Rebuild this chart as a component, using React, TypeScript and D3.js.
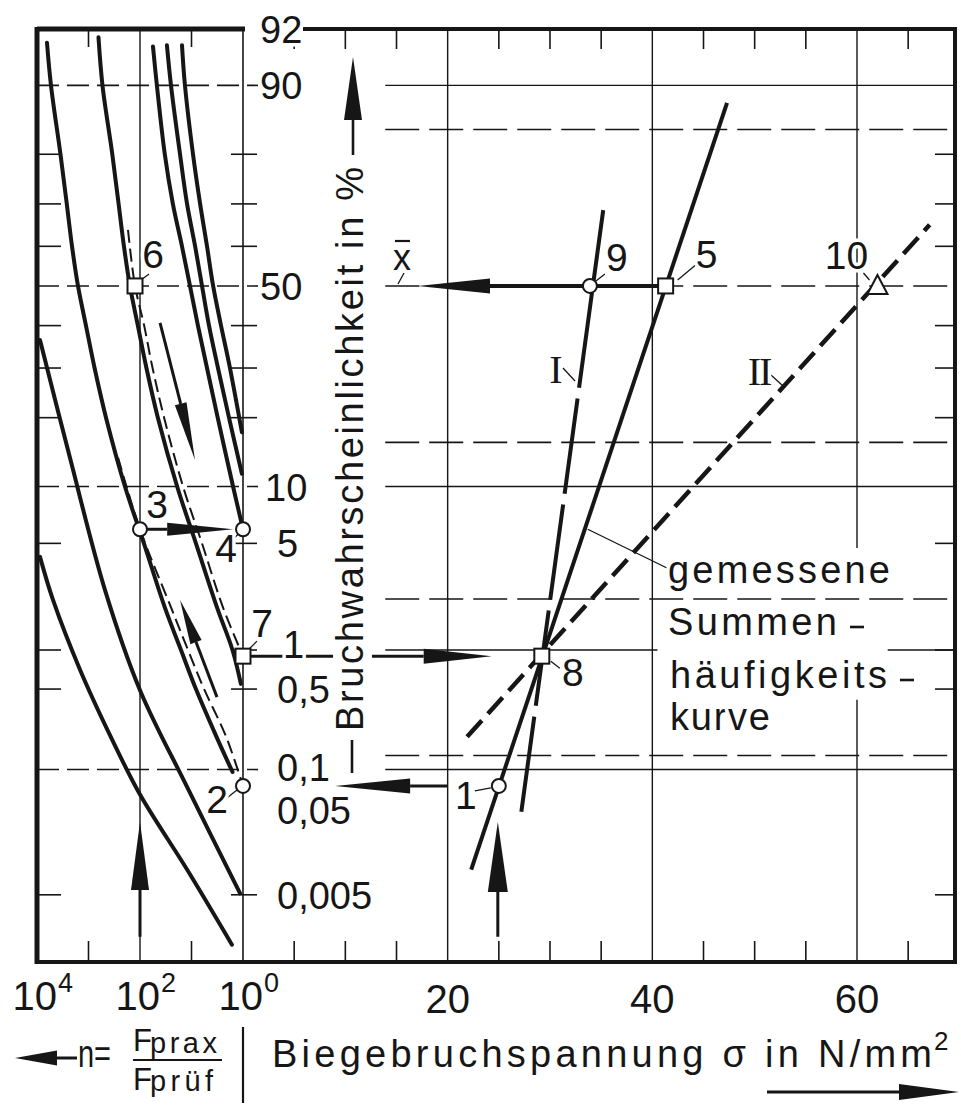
import * as d3 from "d3";

const W = 961;
const H = 1106;

// probability grid, in %
const probTicks = [80, 70, 60, 40, 30, 20, 5, 1, 0.5, 0.005];
const leftDashedP = [90, 50, 10, 0.1];
const rightSolidP = [90, 10, 0.1];
const rightDashedP = [84.13, 50, 15.87, 2.275, 0.135]; // +1s, 0, -1s, -2s, -3s
const onePctSpans = [[13.9, 40.5], [63, 69.6]]; // sigma spans of the 1 % line
const sigma60Gap = [4.7, 0.41]; // P range where the 60-line is cut by the text
const yLabels: [string, number][] = [
  ["90", 90], ["50", 50], ["10", 10], ["5", 5], ["1", 1],
  ["0,5", 0.5], ["0,1", 0.1], ["0,05", 0.05], ["0,005", 0.005],
];

// n axis (left) and sigma axis (right)
const nTicks = [1000, 10];
const nLabels: [number, string][] = [[1e4, "4"], [1e2, "2"], [1, "0"]];
const sigmaTicks = d3.range(5, 70, 5);
const sigmaGrid = [20, 40, 60];
const sigmaLabels = [20, 40, 60];

// conversion curves [n, P%]
const curveA = [[6400, 94], [5350, 90], [3500, 80], [2640, 70], [2090, 60], [1600, 50], [1120, 40], [762, 30], [457, 20], [196, 10], [84, 5], [33, 2], [16, 1], [8.2, 0.5], [3.3, 0.2], [1.6, 0.095]];
const curveB = [[640, 94.4], [535, 90], [345, 80], [260, 70], [205, 60], [157, 50], [110, 40], [75, 30], [45, 20], [19, 10], [8.2, 5], [3.2, 2], [1.6, 1], [1.1, 0.55]];
const curveC = [[56, 93.7], [47, 90], [33, 80], [23, 70], [15.3, 60], [10.7, 50], [7.5, 40], [5.0, 30], [3.1, 20], [1.56, 10], [1, 6]];
const curveD = [[30, 93.8], [25, 90], [16.7, 80], [12.2, 70], [8.5, 60], [6.25, 50], [4.57, 40], [3.06, 30], [1.87, 20], [1.05, 11.5]];
const curveE = [[15.3, 93.8], [13.4, 90], [9.35, 80], [6.8, 70], [5.0, 60], [3.8, 50], [2.67, 40], [1.79, 30], [1.05, 17.5]];
const curveF = [[8750, 36.5], [2290, 13.6], [478, 2.6], [100, 0.49], [12.2, 0.0685], [1.14, 0.0052]];
const curveG = [[8750, 4.17], [4890, 2.24], [1462, 0.71], [383, 0.205], [100, 0.0577], [12.2, 0.0096], [1.64, 0.00128]];
const curves = [curveA, curveB, curveC, curveD, curveE, curveF, curveG];

// construction lines (dashed) [n, P%]
const dashed67 = [[171, 64], [125, 50], [83, 40], [57, 30], [34, 20], [14.6, 10], [6.25, 5], [2.45, 2], [1, 0.9]];
const dashed23 = [[266, 13.6], [100, 6], [25, 2], [11.7, 1], [5.7, 0.5], [2.14, 0.2], [1, 0.07]];

// sum curves [sigma, P%]
const measured = [[22.3, 0.0096], [47.3, 87.9]];
const lineI = [[27.2, 0.039], [35.2, 68.6]];
const lineII = [[21.9, 0.198], [67.1, 65.2]];

const leftPoints = [
  { id: "6", n: 125, p: 50, shape: "square" },
  { id: "3", n: 100, p: 6, shape: "circle" },
  { id: "4", n: 1, p: 6, shape: "circle" },
  { id: "7", n: 1, p: 0.9, shape: "square" },
  { id: "2", n: 1, p: 0.07, shape: "circle" },
];
const rightPoints = [
  { id: "9", s: 33.9, p: 50, shape: "circle" },
  { id: "5", s: 41.3, p: 50, shape: "square" },
  { id: "10", s: 62, p: 50, shape: "triangle" },
  { id: "8", s: 29.2, p: 0.9, shape: "square" },
  { id: "1", s: 25, p: 0.07, shape: "circle" },
];

// arrows: from -> to, in chart units
const leftArrows = [
  { from: [40.8, 40.7], to: [8.55, 13.3], head: [58, 12] },
  { from: [3.2, 0.43], to: [16.7, 2.24], head: [45, 12] },
  { from: [100, 6], to: [1.55, 6], head: [66, 13] },
  { from: [100, 0.0016], to: [100, 0.0307], head: [68, 18] },
];
const rightArrows = [
  { from: [41.3, 50], to: [17.1, 50], head: [72, 15] },
  { from: [12.6, 0.9], to: [24.3, 0.9], head: [68, 15] },
  { from: [20, 0.07], to: [9, 0.07], head: [75, 15] },
  { from: [24.9, 0.0016], to: [24.9, 0.0307], head: [70, 20] },
];
const link78 = [[0.7, 0.9], [8.8, 0.9]];

// inverse normal cdf (Acklam)
function probit(p: number) {
  const a = [-3.969683028665376e1, 2.209460984245205e2, -2.759285104469687e2, 1.38357751867269e2, -3.066479806614716e1, 2.506628277459239];
  const b = [-5.447609879822406e1, 1.615858368580409e2, -1.556989798598866e2, 6.680131188771972e1, -1.328068155288572e1];
  const c = [-7.784894002430293e-3, -3.223964580411365e-1, -2.400758277161838, -2.549732539343734, 4.374664141464968, 2.938163982698783];
  const d = [7.784695709041462e-3, 3.224671290700398e-1, 2.445134137142996, 3.754408661907416];
  const pl = 0.02425;
  if (p < pl) {
    const q = Math.sqrt(-2 * Math.log(p));
    return (((((c[0] * q + c[1]) * q + c[2]) * q + c[3]) * q + c[4]) * q + c[5]) / ((((d[0] * q + d[1]) * q + d[2]) * q + d[3]) * q + 1);
  }
  if (p > 1 - pl) {
    const q = Math.sqrt(-2 * Math.log(1 - p));
    return -(((((c[0] * q + c[1]) * q + c[2]) * q + c[3]) * q + c[4]) * q + c[5]) / ((((d[0] * q + d[1]) * q + d[2]) * q + d[3]) * q + 1);
  }
  const q = p - 0.5;
  const r = q * q;
  return ((((((a[0] * r + a[1]) * r + a[2]) * r + a[3]) * r + a[4]) * r + a[5]) * q) / (((((b[0] * r + b[1]) * r + b[2]) * r + b[3]) * r + b[4]) * r + 1);
}

const frame = { left: 37, right: 955, top: 29, bottom: 962 };
const axisX = 243;
const xN = d3.scaleLog().domain([1e4, 1]).range([frame.left, axisX]);
const xS = d3.scaleLinear().domain([0, 60]).range([axisX, 857]);
const yZ = d3.scaleLinear().domain([1.642, -4.32]).range([frame.top, frame.bottom]);
const yP = (p: number) => yZ(probit(p / 100));

const ink = "#161616";
const halo = { stroke: "#fff", strokeWidth: 7, paintOrder: "stroke", strokeLinejoin: "round" } as any;

function Arrow({ x1, y1, x2, y2, len, wid, sw = 3 }: any) {
  const L = Math.hypot(x2 - x1, y2 - y1);
  const ux = (x2 - x1) / L;
  const uy = (y2 - y1) / L;
  const bx = x2 - ux * len;
  const by = y2 - uy * len;
  const px = (-uy * wid) / 2;
  const py = (ux * wid) / 2;
  return (
    <g>
      <line x1={x1} y1={y1} x2={bx} y2={by} stroke={ink} strokeWidth={sw} />
      <polygon points={`${x2},${y2} ${bx + px},${by + py} ${bx - px},${by - py}`} fill={ink} />
    </g>
  );
}

function Marker({ x, y, shape }: any) {
  if (shape === "circle") return <circle cx={x} cy={y} r={7} fill="#fff" stroke={ink} strokeWidth={2} />;
  if (shape === "square") return <rect x={x - 7.5} y={y - 7.5} width={15} height={15} fill="#fff" stroke={ink} strokeWidth={2} />;
  return <polygon points={`${x},${y - 11} ${x + 10},${y + 8} ${x - 10},${y + 8}`} fill="#fff" stroke={ink} strokeWidth={2} />;
}

// label offsets relative to the marker: [text dx, baseline dy, leader]
const pointLabels: Record<string, any> = {
  "6": [18, -18, [6, -6, 14, -12]],
  "3": [17, -11, null],
  "4": [-17, 33, [-5, 5, -11, 11]],
  "7": [19, -19, [5, -6, 14, -15]],
  "2": [-26, 27, [-6, 4, -20, 15]],
  "9": [27, -15, [6, -5, 15, -12]],
  "5": [41, -18, [12, -6, 30, -21]],
  "10": [-31, -17, [-8, -6, -14, -13]],
  "8": [31, 30, [9, 5, 18, 12]],
  "1": [-33, 23, [-8, 2, -24, 5]],
};
const yLabelX: Record<string, number> = { "90": 260, "50": 260, "10": 265, "5": 277, "1": 283, "0,5": 277, "0,1": 277, "0,05": 277, "0,005": 277 };
const yLabelDy: Record<string, number> = { "1": 8, "0,1": 11, "0,05": 23 };

export default function App() {
  const leftLine = d3
    .line<number[]>()
    .x((d) => xN(d[0]))
    .y((d) => yP(d[1]))
    .curve(d3.curveCatmullRom.alpha(0.5));
  const rightLine = d3
    .line<number[]>()
    .x((d) => xS(d[0]))
    .y((d) => yP(d[1]));

  const rightStart = xS(13.9);

  // leader of the "gemessene ..." text, starting on the measured line
  const m0 = [xS(measured[0][0]), yP(measured[0][1])];
  const m1 = [xS(measured[1][0]), yP(measured[1][1])];
  const leadY = yP(6);
  const leadX = m0[0] + ((leadY - m0[1]) * (m1[0] - m0[0])) / (m1[1] - m0[1]);

  const allPoints = [
    ...leftPoints.map((d) => ({ ...d, x: xN(d.n), y: yP(d.p) })),
    ...rightPoints.map((d) => ({ ...d, x: xS(d.s), y: yP(d.p) })),
  ];

  return (
    <svg
      width={W}
      height={H}
      style={{ position: "absolute", left: 0, top: 0, background: "#fff" }}
      fontFamily="'Liberation Sans', Arial, sans-serif"
      fill={ink}
    >
      <rect width={W} height={H} fill="#fff" />

      {/* left panel grid */}
      {leftDashedP.map((p) => (
        <line key={"ld" + p} x1={frame.left} x2={axisX + 15} y1={yP(p)} y2={yP(p)} stroke={ink} strokeWidth={1.6} strokeDasharray="22 8" />
      ))}
      {probTicks.map((p) => (
        <g key={"lt" + p}>
          <line x1={frame.left} x2={frame.left + 24} y1={yP(p)} y2={yP(p)} stroke={ink} strokeWidth={1.6} />
          <line x1={axisX - 12} x2={axisX + 14} y1={yP(p)} y2={yP(p)} stroke={ink} strokeWidth={1.6} />
          <line x1={frame.right - 20} x2={frame.right} y1={yP(p)} y2={yP(p)} stroke={ink} strokeWidth={1.6} />
        </g>
      ))}
      <line x1={xN(100)} x2={xN(100)} y1={frame.top} y2={frame.bottom} stroke={ink} strokeWidth={1.4} />
      <line x1={axisX} x2={axisX} y1={frame.top} y2={frame.bottom} stroke={ink} strokeWidth={1.6} />
      {nTicks.map((n) => (
        <g key={"nt" + n}>
          <line x1={xN(n)} x2={xN(n)} y1={frame.top} y2={frame.top + 18} stroke={ink} strokeWidth={1.6} />
          <line x1={xN(n)} x2={xN(n)} y1={frame.bottom - 21} y2={frame.bottom} stroke={ink} strokeWidth={1.6} />
        </g>
      ))}

      {/* right panel grid */}
      {rightSolidP.map((p) => (
        <line key={"rs" + p} x1={rightStart} x2={frame.right} y1={yP(p)} y2={yP(p)} stroke={ink} strokeWidth={1.4} />
      ))}
      {rightDashedP.map((p) => (
        <line key={"rd" + p} x1={rightStart} x2={frame.right} y1={yP(p)} y2={yP(p)} stroke={ink} strokeWidth={1.6} strokeDasharray="34 10" />
      ))}
      {onePctSpans.map((s, i) => (
        <line key={"op" + i} x1={xS(s[0])} x2={xS(s[1])} y1={yP(1)} y2={yP(1)} stroke={ink} strokeWidth={1.4} />
      ))}
      {sigmaGrid.map((s) =>
        s === 60 ? (
          <g key={"sg" + s}>
            <line x1={xS(s)} x2={xS(s)} y1={frame.top} y2={yP(sigma60Gap[0])} stroke={ink} strokeWidth={1.4} />
            <line x1={xS(s)} x2={xS(s)} y1={yP(sigma60Gap[1])} y2={frame.bottom} stroke={ink} strokeWidth={1.4} />
          </g>
        ) : (
          <line key={"sg" + s} x1={xS(s)} x2={xS(s)} y1={frame.top} y2={frame.bottom} stroke={ink} strokeWidth={1.4} />
        )
      )}
      {sigmaTicks
        .filter((s) => !sigmaGrid.includes(s))
        .map((s) => (
          <g key={"st" + s}>
            <line x1={xS(s)} x2={xS(s)} y1={frame.top} y2={frame.top + 20} stroke={ink} strokeWidth={1.6} />
            <line x1={xS(s)} x2={xS(s)} y1={frame.bottom - 21} y2={frame.bottom} stroke={ink} strokeWidth={1.6} />
          </g>
        ))}

      {/* frame */}
      <line x1={frame.left} x2={axisX + 2} y1={frame.top} y2={frame.top} stroke={ink} strokeWidth={5} />
      <line x1={303} x2={frame.right + 2} y1={frame.top} y2={frame.top} stroke={ink} strokeWidth={4} />
      <line x1={frame.left} x2={frame.left} y1={frame.top - 2} y2={frame.bottom + 2} stroke={ink} strokeWidth={5} />
      <line x1={frame.right} x2={frame.right} y1={frame.top - 2} y2={frame.bottom + 2} stroke={ink} strokeWidth={4} />
      <line x1={frame.left - 2} x2={frame.right + 2} y1={frame.bottom} y2={frame.bottom} stroke={ink} strokeWidth={4} />

      {/* left conversion curves */}
      {curves.map((c, i) => (
        <path key={"c" + i} d={leftLine(c) || ""} fill="none" stroke={ink} strokeWidth={4} strokeLinecap="round" />
      ))}
      <path d={leftLine(dashed67) || ""} fill="none" stroke={ink} strokeWidth={2} strokeDasharray="13 6" />
      <path d={leftLine(dashed23) || ""} fill="none" stroke={ink} strokeWidth={2} strokeDasharray="13 6" />

      {/* right sum curves */}
      <path d={rightLine(measured) || ""} fill="none" stroke={ink} strokeWidth={4} />
      <path d={rightLine(lineI) || ""} fill="none" stroke={ink} strokeWidth={4} strokeDasharray="96 11" />
      <path d={rightLine(lineII) || ""} fill="none" stroke={ink} strokeWidth={4.5} strokeDasharray="22 9" />

      {/* arrows */}
      {leftArrows.map((a, i) => (
        <Arrow key={"la" + i} x1={xN(a.from[0])} y1={yP(a.from[1])} x2={xN(a.to[0])} y2={yP(a.to[1])} len={a.head[0]} wid={a.head[1]} />
      ))}
      {rightArrows.map((a, i) => (
        <Arrow key={"ra" + i} x1={xS(a.from[0])} y1={yP(a.from[1])} x2={xS(a.to[0])} y2={yP(a.to[1])} len={a.head[0]} wid={a.head[1]} sw={i === 0 ? 4 : 3} />
      ))}
      <line x1={xS(link78[0][0])} x2={xS(link78[1][0])} y1={yP(link78[0][1])} y2={yP(link78[1][1])} stroke={ink} strokeWidth={3} />

      {/* leaders */}
      {allPoints.map((d) => {
        const o = pointLabels[d.id];
        return o && o[2] ? (
          <line key={"ld" + d.id} x1={d.x + o[2][0]} y1={d.y + o[2][1]} x2={d.x + o[2][2]} y2={d.y + o[2][3]} stroke={ink} strokeWidth={1.3} />
        ) : null;
      })}
      <line x1={398} y1={yP(50) - 2} x2={404} y2={yP(50) - 13} stroke={ink} strokeWidth={1.3} />
      <line x1={563} y1={368} x2={575} y2={381} stroke={ink} strokeWidth={1.3} />
      <line x1={771} y1={375} x2={783} y2={386} stroke={ink} strokeWidth={1.3} />
      <line x1={leadX + 3} y1={leadY} x2={667} y2={568} stroke={ink} strokeWidth={1.3} />

      {/* markers */}
      {allPoints.map((d) => (
        <Marker key={"m" + d.id} x={d.x} y={d.y} shape={d.shape} />
      ))}

      {/* point labels */}
      {allPoints.map((d) => {
        const o = pointLabels[d.id];
        return (
          <text key={"pl" + d.id} x={d.x + o[0]} y={d.y + o[1]} fontSize={39} textAnchor="middle" style={halo}>
            {d.id}
          </text>
        );
      })}
      <text x={402} y={270} fontSize={36} textAnchor="middle" style={halo}>x</text>
      <line x1={395} x2={410} y1={241} y2={241} stroke={ink} strokeWidth={2.2} />
      <text x={556} y={383} fontSize={40} textAnchor="middle" fontFamily="'Liberation Serif', serif" style={halo}>I</text>
      <text x={759} y={385} fontSize={40} textAnchor="middle" fontFamily="'Liberation Serif', serif" letterSpacing={-2} style={halo}>II</text>

      {/* measured-curve caption */}
      <g fontSize={38} style={halo}>
        <text x={668} y={583} textLength={222} lengthAdjust="spacing">gemessene</text>
        <text x={668} y={635} textLength={169} lengthAdjust="spacing">Summen</text>
        <text x={670} y={688} textLength={217} lengthAdjust="spacing">häufigkeits</text>
        <text x={670} y={730} textLength={100} lengthAdjust="spacing">kurve</text>
      </g>
      <line x1={850} x2={864} y1={627} y2={627} stroke={ink} strokeWidth={2.6} />
      <line x1={900} x2={914} y1={680} y2={680} stroke={ink} strokeWidth={2.6} />

      {/* y labels */}
      <text x={260} y={43} fontSize={38} style={halo}>92</text>
      {yLabels.map(([t, p]) => (
        <text key={"yl" + t} x={yLabelX[t]} y={yP(p) + (yLabelDy[t] ?? 14)} fontSize={38} style={halo}>
          {t}
        </text>
      ))}

      {/* y title */}
      <line x1={352} x2={352} y1={740} y2={773} stroke={ink} strokeWidth={2.6} />
      <text transform="translate(363,731) rotate(-90)" fontSize={38} textLength={564} lengthAdjust="spacing" style={halo}>
        Bruchwahrscheinlichkeit in %
      </text>
      <Arrow x1={353} y1={155} x2={353} y2={57} len={63} wid={18} sw={2.6} />

      {/* x tick labels */}
      {nLabels.map(([n, e]) => (
        <g key={"nl" + n}>
          <text x={xN(n) + 20} y={1010} fontSize={40} textAnchor="end">10</text>
          <text x={xN(n) + 21} y={992} fontSize={27}>{e}</text>
        </g>
      ))}
      {sigmaLabels.map((s) => (
        <text key={"sl" + s} x={xS(s)} y={1013} fontSize={40} textAnchor="middle">
          {s}
        </text>
      ))}

      {/* x titles */}
      <Arrow x1={77} y1={1058} x2={15} y2={1058} len={42} wid={15} sw={3} />
      <text x={78} y={1067} fontSize={38} textLength={33} lengthAdjust="spacingAndGlyphs">n=</text>
      <text x={133} y={1051} fontSize={31}>F</text>
      <text x={150} y={1053} fontSize={29} textLength={67} lengthAdjust="spacing">prax</text>
      <line x1={133} x2={222} y1={1060} y2={1060} stroke={ink} strokeWidth={2.2} />
      <text x={133} y={1090} fontSize={31}>F</text>
      <text x={150} y={1091} fontSize={29} textLength={63} lengthAdjust="spacing">prüf</text>
      <line x1={axisX} x2={axisX} y1={1027} y2={1103} stroke={ink} strokeWidth={2.2} />
      <text x={272} y={1067} fontSize={38} textLength={660} lengthAdjust="spacing">
        Biegebruchspannung σ in N/mm
      </text>
      <text x={934} y={1050} fontSize={26}>2</text>
      <Arrow x1={767} y1={1092} x2={959} y2={1092} len={60} wid={16} sw={3} />
    </svg>
  );
}
